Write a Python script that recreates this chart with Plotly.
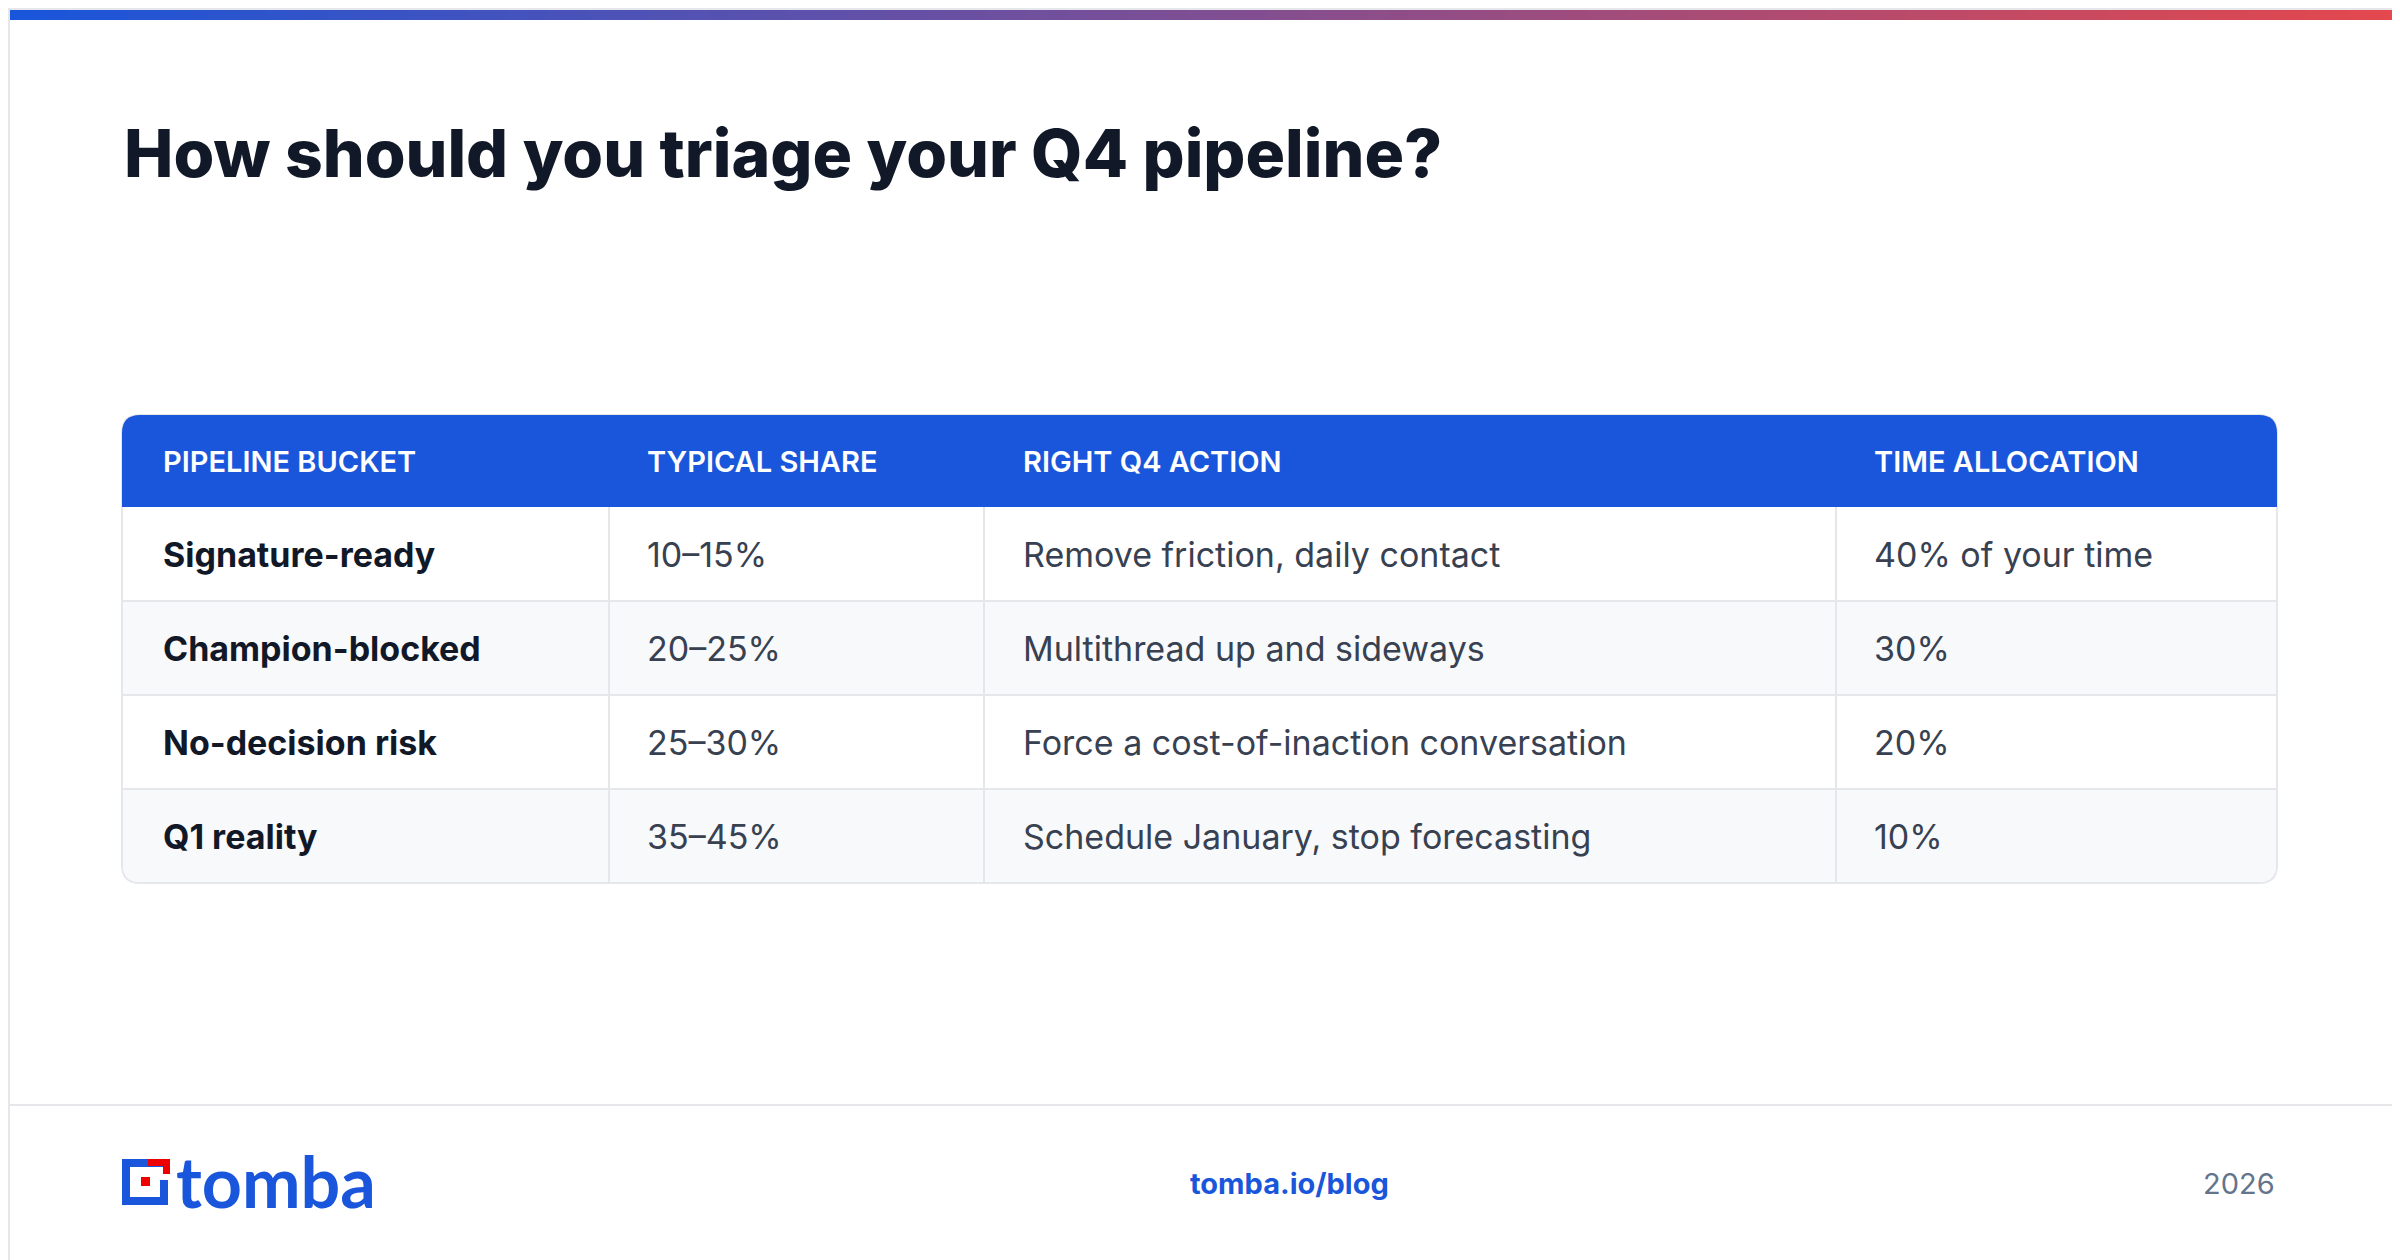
import plotly.graph_objects as go

title = "How should you triage your Q4 pipeline?"
headers = ["PIPELINE BUCKET", "TYPICAL SHARE", "RIGHT Q4 ACTION", "TIME ALLOCATION"]
buckets = ["Signature-ready", "Champion-blocked", "No-decision risk", "Q1 reality"]
shares = ["10–15%", "20–25%", "25–30%", "35–45%"]
actions = ["Remove friction, daily contact", "Multithread up and sideways",
           "Force a cost-of-inaction conversation", "Schedule January, stop forecasting"]
times = ["40% of your time", "30%", "20%", "10%"]
footer_url = "tomba.io/blog"
footer_year = "2026"

W, H = 2400, 1260
OFF = 8
BLUE = "#1a56db"
FONT = "Inter"
fig = go.Figure()
shapes, ann = [], []

c1, c2 = (0x1a, 0x56, 0xdb), (0xe5, 0x48, 0x4d)
N = 120
for i in range(N):
    t = i / (N - 1)
    col = "rgb(%d,%d,%d)" % tuple(int(a + (b - a) * t) for a, b in zip(c1, c2))
    shapes.append(dict(type="rect", x0=OFF + W * i / N, x1=OFF + W * (i + 1) / N + 1, y0=OFF, y1=OFF + 12,
                       fillcolor=col, line_width=0, layer="above"))
shapes.append(dict(type="rect", x0=OFF + 1, x1=W + OFF - 1, y0=OFF + 1, y1=H + OFF - 1,
                   line=dict(color="#e5e7eb", width=2)))

ann.append(dict(x=122, y=153, text=title, xanchor="left", yanchor="middle",
                font=dict(family=FONT, size=66, color="#111827", weight=800), showarrow=False))

X0, X1 = 122, 2277
cols = [122, 609, 984, 1836, 2277]
txt_x = [161, 645, 1021, 1872]
HY0, HY1 = 415, 507
rh = 94
R = 18
shapes.append(dict(type="path", path=f"M{X0+R},{HY0} L{X1-R},{HY0} Q{X1},{HY0} {X1},{HY0+R} L{X1},{HY1+4*rh-R} Q{X1},{HY1+4*rh} {X1-R},{HY1+4*rh} L{X0+R},{HY1+4*rh} Q{X0},{HY1+4*rh} {X0},{HY1+4*rh-R} L{X0},{HY0+R} Q{X0},{HY0} {X0+R},{HY0} Z",
                   fillcolor="white", line=dict(color="#e5e7eb", width=2), layer="below"))
for r in range(4):
    y0 = HY1 + r * rh
    if r % 2 == 1:
        if r == 3:
            p = f"M{X0+1},{y0} L{X1-1},{y0} L{X1-1},{y0+rh-R} Q{X1-1},{y0+rh-1} {X1-R},{y0+rh-1} L{X0+R},{y0+rh-1} Q{X0+1},{y0+rh-1} {X0+1},{y0+rh-R} Z"
            shapes.append(dict(type="path", path=p, fillcolor="#f8f9fb", line_width=0, layer="below"))
        else:
            shapes.append(dict(type="rect", x0=X0 + 1, x1=X1 - 1, y0=y0, y1=y0 + rh, fillcolor="#f8f9fb", line_width=0, layer="below"))
    if r > 0:
        shapes.append(dict(type="line", x0=X0, x1=X1, y0=y0, y1=y0, line=dict(color="#e5e7eb", width=2)))
for cx in cols[1:-1]:
    shapes.append(dict(type="line", x0=cx, x1=cx, y0=HY1, y1=HY1 + 4 * rh, line=dict(color="#e5e7eb", width=2)))
shapes.append(dict(type="path", path=f"M{X0+R},{HY0} L{X1-R},{HY0} Q{X1},{HY0} {X1},{HY0+R} L{X1},{HY1} L{X0},{HY1} L{X0},{HY0+R} Q{X0},{HY0} {X0+R},{HY0} Z",
                   fillcolor=BLUE, line_width=0))
for h, x in zip(headers, txt_x):
    ann.append(dict(x=x, y=(HY0 + HY1) / 2, text=h, xanchor="left", yanchor="middle",
                    font=dict(family=FONT, size=29, color="white", weight=600), showarrow=False))
for r in range(4):
    yc = HY1 + r * rh + rh / 2
    row = [buckets[r], shares[r], actions[r], times[r]]
    for c, (v, x) in enumerate(zip(row, txt_x)):
        ann.append(dict(x=x, y=yc, text=v, xanchor="left", yanchor="middle",
                        font=dict(family=FONT, size=34, color="#111827" if c == 0 else "#374151",
                                  weight=700 if c == 0 else 400), showarrow=False))

shapes.append(dict(type="line", x0=0, x1=W + OFF, y0=1105, y1=1105, line=dict(color="#e5e7eb", width=2)))
shapes.append(dict(type="path", path="M122,1159 L163,1159 L163,1167 L130,1167 L130,1197 L160,1197 L160,1180 L168,1180 L168,1205 L122,1205 Z",
                   fillcolor=BLUE, line_width=0))
shapes.append(dict(type="path", path="M148,1159 L170,1159 L170,1174 L163,1174 L163,1166 L148,1166 Z", fillcolor="#ee0000", line_width=0))
shapes.append(dict(type="rect", x0=141, x1=150, y0=1177, y1=1186, fillcolor="#ee0000", line_width=0))
ann.append(dict(x=174, y=1181, text="tomba", xanchor="left", yanchor="middle",
                font=dict(family="Lato", size=70, color=BLUE, weight=700), showarrow=False))
ann.append(dict(x=1289, y=1183, text=footer_url, xanchor="center", yanchor="middle",
                font=dict(family=FONT, size=29, color=BLUE, weight=700), showarrow=False))
ann.append(dict(x=2277, y=1183, text=footer_year, xanchor="right", yanchor="middle",
                font=dict(family=FONT, size=29, color="#64748b"), showarrow=False))

fig.update_layout(width=W, height=H, margin=dict(l=0, r=0, t=0, b=0),
                  paper_bgcolor="white", plot_bgcolor="white",
                  xaxis=dict(range=[OFF, W + OFF], visible=False, fixedrange=True),
                  yaxis=dict(range=[H + OFF, OFF], visible=False, fixedrange=True),
                  shapes=shapes, annotations=ann, showlegend=False)
fig.write_html("out.html", config={"displayModeBar": False})
